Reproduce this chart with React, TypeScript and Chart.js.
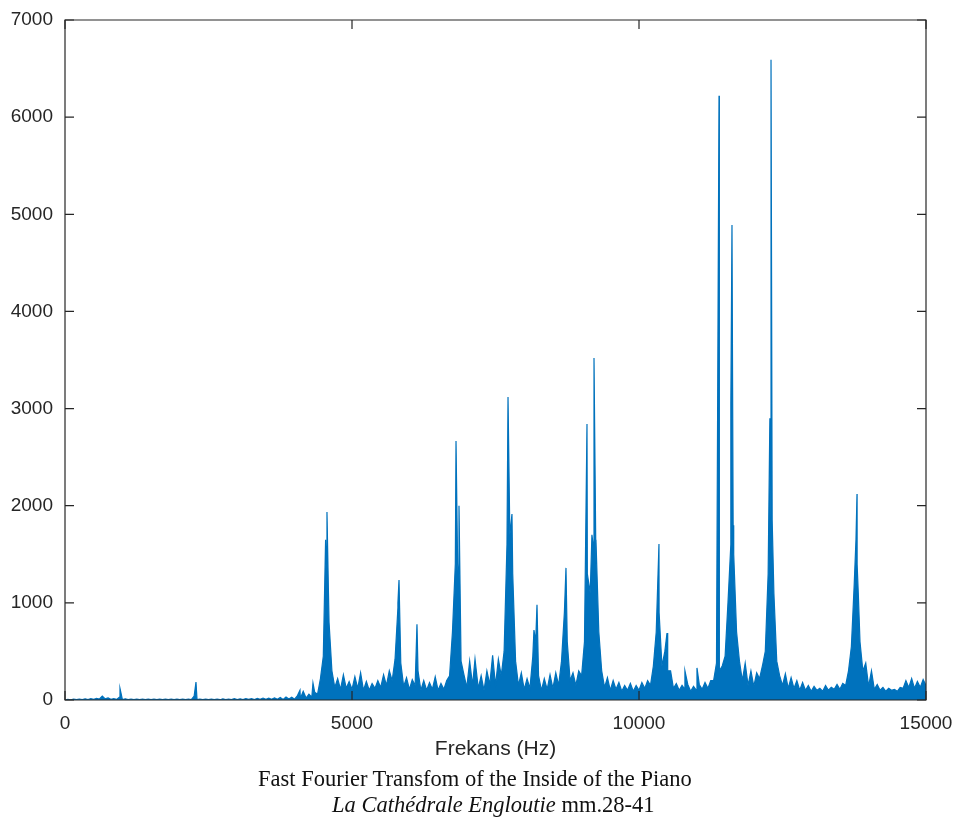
import React, { useEffect, useRef } from "react";
import { Chart, registerables } from "chart.js";

Chart.register(...registerables);

// Uniformly sampled spectrum floor, 50 Hz step from 0 Hz to 15000 Hz
const noiseStartHz = 0;
const noiseStepHz = 50;
const noiseAmp = [
  0, 6, 2, 8, 3, 10, 4, 12, 5, 14,
  6, 16, 10, 40, 12, 22, 8, 14, 6, 30,
  5, 12, 4, 10, 3, 8, 4, 9, 3, 8,
  4, 10, 3, 8, 4, 9, 3, 10, 4, 8,
  3, 9, 4, 10, 5, 40, 5, 10, 4, 8,
  3, 8, 4, 10, 3, 12, 4, 10, 5, 14,
  4, 12, 5, 15, 6, 14, 5, 16, 6, 20,
  6, 18, 7, 22, 8, 25, 6, 30, 10, 28,
  8, 45, 15, 90, 20, 60, 30, 80, 60, 220,
  450, 1400, 800, 300, 130, 220, 110, 260, 120, 190,
  110, 240, 120, 280, 100, 190, 100, 170, 120, 200,
  130, 260, 150, 300, 200, 420, 950, 380, 140, 230,
  110, 210, 150, 300, 100, 200, 100, 180, 110, 240,
  100, 170, 110, 200, 250, 700, 1400, 1300, 400, 260,
  130, 400, 150, 420, 120, 250, 100, 300, 160, 460,
  150, 420, 250, 500, 1600, 1700, 1300, 400, 150, 280,
  110, 220, 120, 450, 600, 250, 100, 220, 110, 260,
  120, 280, 150, 400, 900, 600, 200, 280, 150, 300,
  250, 600, 1300, 1100, 1600, 1400, 700, 300, 130, 230,
  100, 200, 110, 180, 90, 150, 100, 170, 90, 150,
  100, 180, 120, 200, 150, 350, 700, 900, 350, 500,
  300, 300, 120, 170, 100, 150, 110, 160, 90, 140,
  100, 160, 110, 180, 120, 200, 200, 380, 300, 350,
  450, 1000, 1600, 1500, 700, 400, 200, 380, 150, 300,
  140, 280, 220, 350, 500, 1300, 1850, 1100, 400, 250,
  150, 270, 120, 230, 120, 200, 100, 180, 100, 150,
  90, 140, 100, 120, 90, 150, 100, 130, 110, 160,
  110, 170, 150, 300, 550, 1200, 1400, 600, 300, 380,
  140, 300, 110, 160, 100, 130, 90, 120, 100, 110,
  90, 130, 120, 200, 130, 220, 120, 190, 130, 210,
  150,
];

// Narrow spectral peaks (Hz, amplitude)
const peakFreq = [
  958, 2282, 4094, 4320, 4540, 4564, 4590, 5800, 5819, 6132,
  6812, 6840, 6864, 7143, 7718, 7760, 7787, 8170, 8223, 8728,
  9094, 9180, 9216, 9250, 10348, 10488, 10800, 11010, 11394, 11600,
  11620, 11640, 12280, 12300, 12320, 13780, 13798, 13820,
];
const peakAmp = [
  120, 185, 100, 175, 1650, 1935, 1100, 1000, 1235, 780,
  2665, 1400, 2000, 420, 3120, 1750, 1915, 720, 980, 1360,
  2840, 1700, 3520, 1650, 1605, 690, 300, 330, 6220, 3050,
  4890, 1800, 2900, 6590, 1850, 1650, 2120, 1100,
];

const xTicks = [0, 5000, 10000, 15000];
const yTicks = [0, 1000, 2000, 3000, 4000, 5000, 6000, 7000];
const xTitle = "Frekans (Hz)";
const caption1 = "Fast Fourier Transfom of the Inside of the Piano";
const caption2Italic = "La Cathédrale Engloutie";
const caption2Rest = " mm.28-41";

const AXIS = "#262626";
const BLUE = "#0072BD";
const SANS = "'Liberation Sans', Arial, sans-serif";
const SERIF = "'Liberation Serif', 'Times New Roman', serif";

const boxPlugin = {
  id: "matlabBox",
  afterDatasetsDraw(chart: any) {
    const { ctx, chartArea, scales } = chart;
    const { left, right, top, bottom } = chartArea;
    const tl = 9;
    ctx.save();
    ctx.strokeStyle = AXIS;
    ctx.lineWidth = 1.2;
    ctx.beginPath();
    ctx.rect(left, top, right - left, bottom - top);
    ctx.stroke();
    ctx.beginPath();
    scales.x.ticks.forEach((t: any) => {
      const px = scales.x.getPixelForValue(t.value);
      ctx.moveTo(px, bottom);
      ctx.lineTo(px, bottom - tl);
      ctx.moveTo(px, top);
      ctx.lineTo(px, top + tl);
    });
    scales.y.ticks.forEach((t: any) => {
      const py = scales.y.getPixelForValue(t.value);
      ctx.moveTo(left, py);
      ctx.lineTo(left + tl, py);
      ctx.moveTo(right, py);
      ctx.lineTo(right - tl, py);
    });
    ctx.stroke();
    ctx.restore();
  },
};

export default function App() {
  const ref = useRef<HTMLCanvasElement | null>(null);

  useEffect(() => {
    if (!ref.current) return;
    const pts = noiseAmp
      .map((y, i) => ({ x: noiseStartHz + i * noiseStepHz, y }))
      .concat(peakFreq.map((f, i) => ({ x: f, y: peakAmp[i] })))
      .sort((a, b) => a.x - b.x);

    const chart = new Chart(ref.current, {
      type: "line",
      data: {
        datasets: [
          {
            data: pts,
            borderColor: BLUE,
            backgroundColor: BLUE,
            borderWidth: 1.2,
            pointRadius: 0,
            tension: 0,
            fill: "origin",
          },
        ],
      },
      options: {
        animation: false,
        responsive: false,
        maintainAspectRatio: false,
        layout: { padding: { left: 0, right: 34, top: 20, bottom: 0 } },
        plugins: {
          legend: { display: false },
          tooltip: { enabled: false },
        },
        scales: {
          x: {
            type: "linear",
            min: 0,
            max: 15000,
            afterBuildTicks: (s: any) => {
              s.ticks = xTicks.map((v) => ({ value: v }));
            },
            afterFit: (s: any) => {
              s.height = 70;
              s.paddingLeft = 0;
              s.paddingRight = 0;
            },
            grid: { display: false, drawTicks: false },
            border: { display: false },
            ticks: {
              color: AXIS,
              font: { family: SANS, size: 19 },
              padding: 12,
              maxRotation: 0,
              autoSkip: false,
              callback: (v: any) => String(v),
            },
            title: {
              display: true,
              text: xTitle,
              color: AXIS,
              font: { family: SANS, size: 21 },
              padding: { top: 0, bottom: 8 },
            },
          },
          y: {
            type: "linear",
            min: 0,
            max: 7000,
            afterBuildTicks: (s: any) => {
              s.ticks = yTicks.map((v) => ({ value: v }));
            },
            afterFit: (s: any) => {
              s.width = 65;
              s.paddingTop = 0;
              s.paddingBottom = 0;
            },
            grid: { display: false, drawTicks: false },
            border: { display: false },
            ticks: {
              color: AXIS,
              font: { family: SANS, size: 19 },
              padding: 12,
              autoSkip: false,
              callback: (v: any) => String(v),
            },
          },
        },
      },
      plugins: [boxPlugin],
    });
    return () => chart.destroy();
  }, []);

  return (
    <div
      style={{
        position: "fixed",
        left: 0,
        top: 0,
        width: 960,
        height: 821,
        background: "#fff",
        overflow: "hidden",
      }}
    >
      <canvas
        ref={ref}
        width={960}
        height={770}
        style={{ position: "absolute", left: 0, top: 0, width: 960, height: 770 }}
      />
      <div
        style={{
          position: "absolute",
          left: 258,
          top: 767,
          fontFamily: SERIF,
          fontSize: 22.5,
          lineHeight: "24px",
          color: "#111",
          whiteSpace: "nowrap",
        }}
      >
        {caption1}
      </div>
      <div
        style={{
          position: "absolute",
          left: 332,
          top: 793,
          fontFamily: SERIF,
          fontSize: 22.5,
          lineHeight: "24px",
          color: "#111",
          whiteSpace: "nowrap",
        }}
      >
        <i>{caption2Italic}</i>
        {caption2Rest}
      </div>
    </div>
  );
}
